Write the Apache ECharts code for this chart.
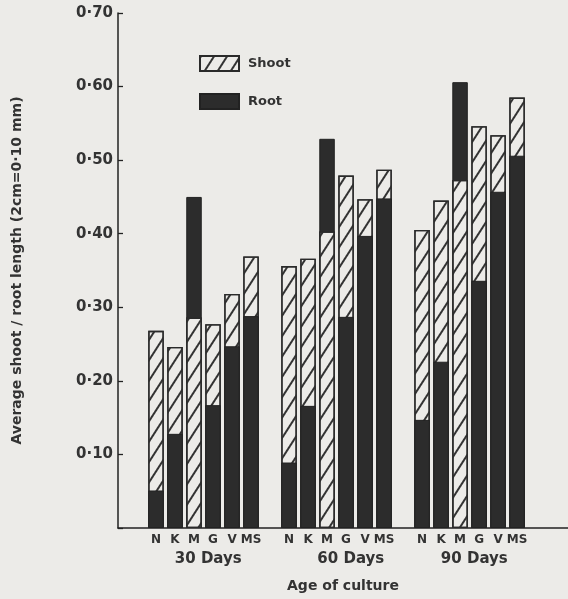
<!DOCTYPE html>
<html>
<head>
<meta charset="utf-8">
<script src="https://cdn.jsdelivr.net/npm/echarts@6/dist/echarts.min.js"></script>
<style>
html,body{margin:0;padding:0;background:#ecebe8;}
#chart{width:568px;height:599px;}
</style>
</head>
<body>
<div id="chart"></div>
<script>
// ---- data ----
const groups = ['30 Days', '60 Days', '90 Days'];
const media = ['N', 'K', 'M', 'G', 'V', 'MS'];
const shoot30 = [0.268, 0.246, 0.286, 0.277, 0.318, 0.369];
const root30  = [0.051, 0.128, 0.450, 0.167, 0.247, 0.288];
const shoot60 = [0.356, 0.366, 0.403, 0.479, 0.447, 0.487];
const root60  = [0.089, 0.166, 0.529, 0.287, 0.397, 0.448];
const shoot90 = [0.405, 0.445, 0.473, 0.546, 0.534, 0.585];
const root90  = [0.147, 0.226, 0.606, 0.336, 0.457, 0.506];
const yTicks = [0.1, 0.2, 0.3, 0.4, 0.5, 0.6, 0.7];

// ---- layout (slot positions on the x scale) ----
const firstSlot = 2, groupStride = 7;
const groupLabelSlots = [4.75, 12.25, 18.75];
const xMax = 23.68;

const shootAll = [shoot30, shoot60, shoot90];
const rootAll = [root30, root60, root90];

const slotLabel = {};
const shootData = [], rootBack = [], rootFront = [];
groups.forEach((g, gi) => {
  media.forEach((m, mi) => {
    const x = firstSlot + gi * groupStride + mi;
    slotLabel[x] = m;
    const s = shootAll[gi][mi], r = rootAll[gi][mi];
    shootData.push([x, s]);
    if (r > s) rootBack.push([x, r]); else rootFront.push([x, r]);
  });
});

const dark = '#2c2c2c';
const hatch = {
  color: '#ecebe8',
  borderColor: '#2a2a2a',
  borderWidth: 1.3,
  decal: {
    symbol: 'rect', symbolSize: 1,
    dashArrayX: [1, 0], dashArrayY: [1.5, 9],
    rotation: -1.0, color: '#333'
  }
};
const darkStyle = { color: dark, borderColor: '#222', borderWidth: 1 };
const font = '"DejaVu Sans", sans-serif';

const chart = echarts.init(document.getElementById('chart'));
chart.setOption({
  backgroundColor: '#ecebe8',
  animation: false,
  grid: { left: 118, right: 0, top: 13, bottom: 71 },
  legend: {
    orient: 'vertical', left: 194, top: 50, icon: 'rect',
    itemWidth: 39, itemHeight: 15, itemGap: 21,
    data: ['Shoot', 'Root'],
    textStyle: { fontFamily: font, fontWeight: 'bold', fontSize: 13, color: '#333', padding: [0, 0, 0, 4] }
  },
  xAxis: [{
    type: 'value', min: 0, max: xMax, interval: 1,
    axisLine: { show: true, onZero: false, lineStyle: { color: '#222', width: 1.5 } },
    axisTick: { show: false }, splitLine: { show: false },
    axisLabel: {
      margin: 6, fontFamily: font, fontWeight: 'bold', fontSize: 12, color: '#333',
      showMaxLabel: false,
      formatter: v => slotLabel[v] || ''
    },
    name: 'Age of culture', nameLocation: 'middle', nameGap: 51,
    nameTextStyle: { fontFamily: font, fontWeight: 'bold', fontSize: 14, color: '#333' }
  }, {
    type: 'value', min: 0, max: xMax, interval: 0.25, position: 'bottom',
    axisLine: { show: false }, axisTick: { show: false }, splitLine: { show: false },
    axisLabel: {
      margin: 24, fontFamily: font, fontWeight: 'bold', fontSize: 15, color: '#333',
      showMaxLabel: false,
      formatter: v => {
        const k = groupLabelSlots.findIndex(p => Math.abs(p - v) < 0.01);
        return k >= 0 ? groups[k] : '';
      }
    }
  }],
  yAxis: {
    type: 'value', min: 0, max: 0.7, interval: 0.1,
    axisLine: { show: true, lineStyle: { color: '#222', width: 1.5 } },
    axisTick: { show: true, inside: true, length: 5, lineStyle: { color: '#222', width: 1.3 } },
    splitLine: { show: false },
    axisLabel: {
      margin: 5, fontFamily: font, fontWeight: 'bold', fontSize: 15, color: '#333',
      formatter: v => {
        const t = yTicks.find(y => Math.abs(y - v) < 1e-6);
        return t ? '0·' + Math.round(t * 100).toString().padStart(2, '0') : '';
      }
    },
    name: 'Average shoot / root length (2cm=0·10 mm)',
    nameLocation: 'middle', nameGap: 94, nameRotate: 90,
    nameTextStyle: { fontFamily: font, fontWeight: 'bold', fontSize: 14, color: '#333' }
  },
  series: [
    { name: 'Root', type: 'bar', data: rootBack, barWidth: 15.5, barGap: '-100%', itemStyle: darkStyle },
    { name: 'Shoot', type: 'bar', data: shootData, barWidth: 15.5, barGap: '-100%', itemStyle: hatch },
    { name: 'Root', type: 'bar', data: rootFront, barWidth: 15.5, barGap: '-100%', itemStyle: darkStyle }
  ]
});
</script>
</body>
</html>
